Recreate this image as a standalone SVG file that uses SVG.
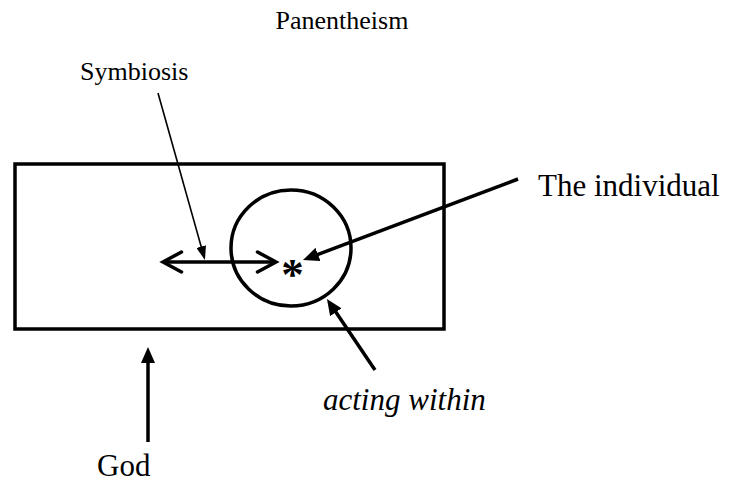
<svg xmlns="http://www.w3.org/2000/svg" width="732" height="486" viewBox="0 0 732 486">
<style>
text{font-family:"Liberation Serif","Times New Roman",serif;fill:#000}
.s{font-size:26px}
.l{font-size:31px}
.thick{stroke:#000;stroke-width:3.5;fill:none}
.thin{stroke:#000;stroke-width:1.6;fill:none}
</style>
<defs>
<marker id="ah" viewBox="0 0 16 14" refX="2" refY="7" markerWidth="16" markerHeight="14" markerUnits="userSpaceOnUse" orient="auto">
<path d="M0,0 L16,7 L0,14 z" fill="#000"/>
</marker>
<marker id="ahs" viewBox="0 0 14 10" refX="2" refY="5" markerWidth="14" markerHeight="10" markerUnits="userSpaceOnUse" orient="auto">
<path d="M0,0 L14,5 L0,10 z" fill="#000"/>
</marker>
</defs>
<rect width="732" height="486" fill="#fff"/>
<g id="title"><text class="s" x="342" y="29" text-anchor="middle">Panentheism</text></g>
<g id="god-box"><rect x="15" y="164" width="429" height="165" class="thick"/></g>
<g id="individual-circle"><ellipse cx="291" cy="248" rx="60" ry="58" class="thick"/><text x="292.5" y="289" font-size="45" font-weight="bold" text-anchor="middle">*</text></g>
<g id="label-symbiosis"><text class="s" x="80" y="80">Symbiosis</text></g>
<g id="label-individual"><text class="l" x="538" y="196">The individual</text></g>
<g id="label-acting"><text class="l" x="323" y="410" font-style="italic">acting within</text></g>
<g id="label-god"><text class="l" x="97" y="476">God</text></g>
<g id="connectors">
<line x1="163" y1="262" x2="276" y2="262" class="thick"/>
<polyline points="181.5,252 163,262 181.5,272" class="thick" stroke-linecap="round" stroke-linejoin="miter"/>
<polyline points="257.5,252 276,262 257.5,272" class="thick" stroke-linecap="round" stroke-linejoin="miter"/>
<line x1="158" y1="93" x2="201.7" y2="248.5" class="thin" marker-end="url(#ahs)"/>
<line x1="518" y1="179" x2="316.1" y2="255.1" class="thick" marker-end="url(#ah)"/>
<line x1="148" y1="442" x2="148" y2="361" class="thick" marker-end="url(#ah)"/>
<line x1="375" y1="370" x2="334.8" y2="310.6" class="thick" marker-end="url(#ah)"/>
</g>
</svg>
